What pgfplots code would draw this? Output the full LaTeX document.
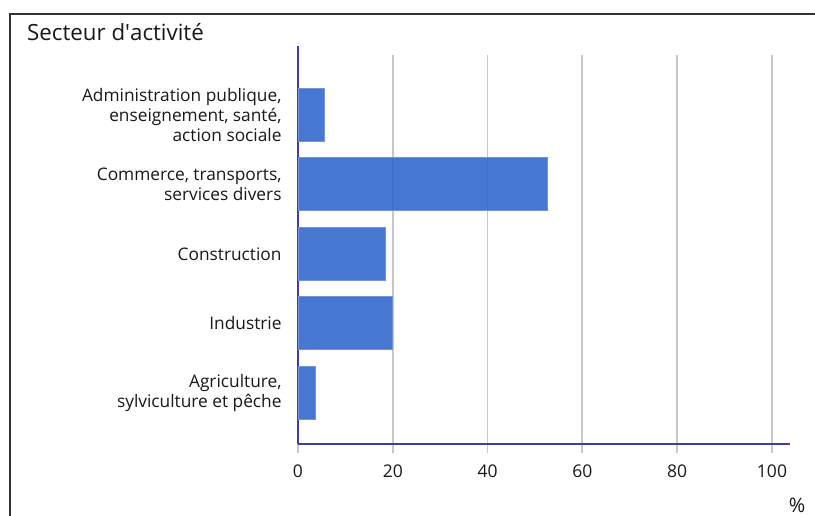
\documentclass[border=0pt]{standalone}
\usepackage{pgfplots}
\pgfplotsset{compat=1.18}
\usepackage{fontspec}
\setmainfont{Open Sans}
\definecolor{barblue}{RGB}{51,104,204}
\definecolor{axisblue}{RGB}{62,62,165}
\definecolor{gridgray}{RGB}{200,200,200}
\definecolor{txt}{RGB}{24,24,24}
\definecolor{frame}{RGB}{50,50,50}
\begin{document}
\begin{tikzpicture}
\path[use as bounding box] (0pt,0pt) rectangle (815pt,-516pt);
\draw[line width=2.2pt, frame] (10pt,-518pt) -- (10pt,-14pt) -- (817pt,-14pt);
\node[anchor=base west, font=\fontsize{22.3}{26}\selectfont, text=txt, inner sep=0pt] at (27pt,-41pt) {Secteur d\textquotesingle activité};
\node[anchor=center, font=\fontsize{20}{24}\selectfont, text=txt, inner sep=0pt] at (797pt,-505pt) {\%};
\begin{axis}[
  at={(298pt,-444pt)}, anchor=south west,
  scale only axis, width=492pt, height=389pt,
  xmin=0, xmax=103.8, ymin=-0.733, ymax=4.855,
  xbar, bar width=53pt,
  xtick={0,20,40,60,80,100},
  ytick={0,1,2,3,4},
  yticklabels={{Agriculture,\\sylviculture et pêche},{Industrie},{Construction},{Commerce, transports,\\services divers},{Administration publique,\\enseignement, santé,\\action sociale}},
  axis x line*=bottom, axis y line*=left,
  axis line style={-, axisblue, line width=2pt},
  y axis line style={shorten >=-9pt},
  xmajorgrids, grid style={gridgray, line width=1.8pt},
  tick align=outside,
  x tick style={gridgray, line width=1.8pt},
  xtick style={/pgfplots/major tick length=9pt},
  ytick style={draw=none},
  /pgf/number format/assume math mode=true,
  xticklabel style={font=\fontsize{17.5}{20}\selectfont, text=txt, inner sep=0pt, yshift=-16pt},
  yticklabel style={font=\fontsize{17.3}{20}\selectfont, text=txt, align=right, inner sep=0pt, xshift=-12pt},
]
\addplot[fill=barblue, fill opacity=0.9, draw=barblue!70!white, line width=0.8pt] coordinates {
  (3.7,0) (20.0,1) (18.35,2) (52.7,3) (5.5,4)
};
\end{axis}
\end{tikzpicture}
\end{document}
